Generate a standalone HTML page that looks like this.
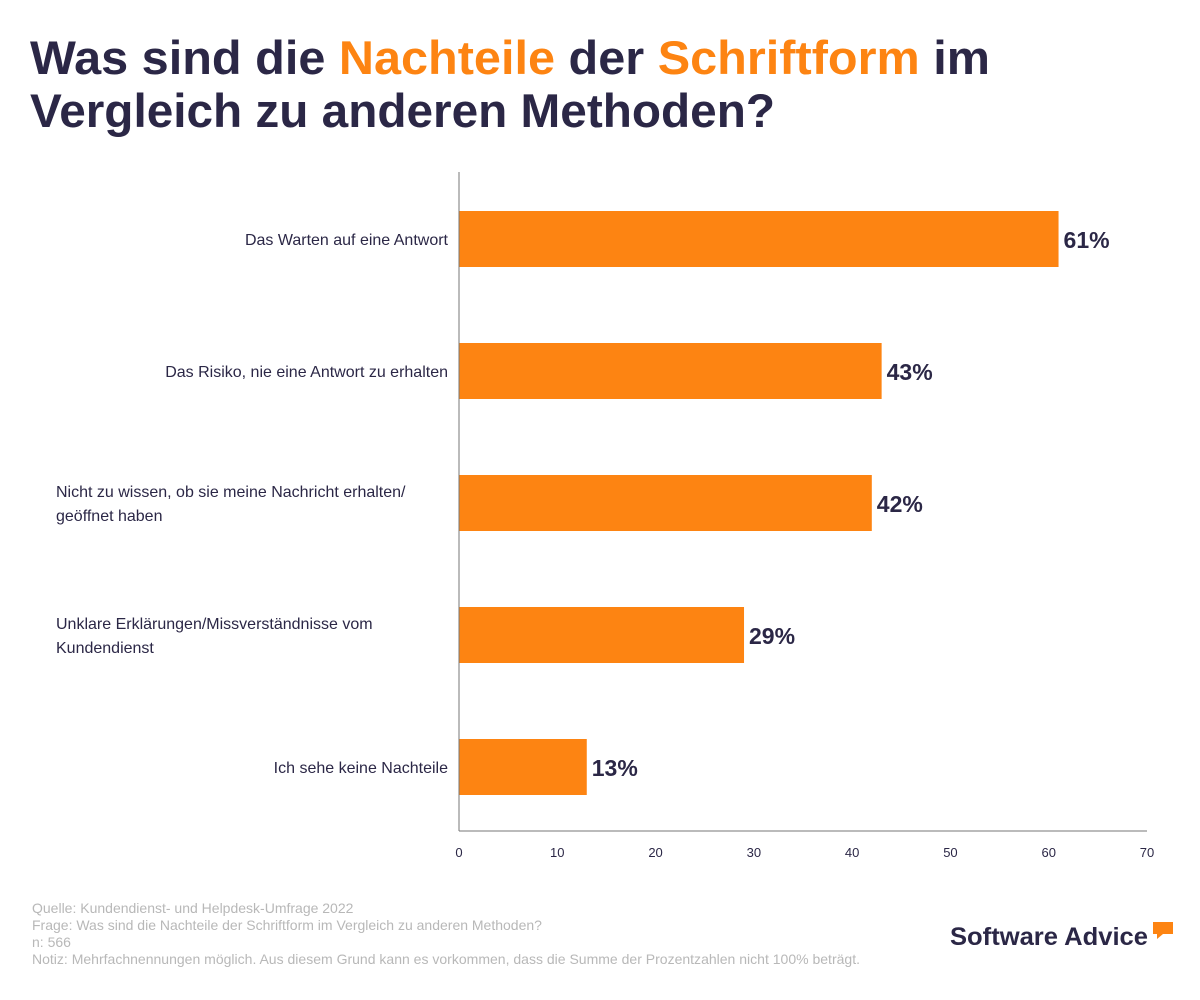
<!DOCTYPE html>
<html><head><meta charset="utf-8"><style>
body{margin:0;background:#fff;}
svg{display:block;font-family:"Liberation Sans",sans-serif;}
</style></head><body>
<svg width="1200" height="1000" viewBox="0 0 1200 1000">
<text x="30" y="74" font-size="47" font-weight="bold" fill="#2b2746" textLength="960" lengthAdjust="spacingAndGlyphs">Was sind die <tspan fill="#fd8412">Nachteile</tspan> der <tspan fill="#fd8412">Schriftform</tspan> im</text>
<text x="30" y="127" font-size="47" font-weight="bold" fill="#2b2746" textLength="745" lengthAdjust="spacingAndGlyphs">Vergleich zu anderen Methoden?</text>
<g id="plot"></g>
<g font-size="14" fill="#b8b8b8">
<text x="32" y="913">Quelle: Kundendienst- und Helpdesk-Umfrage 2022</text>
<text x="32" y="930">Frage: Was sind die Nachteile der Schriftform im Vergleich zu anderen Methoden?</text>
<text x="32" y="947">n: 566</text>
<text x="32" y="964" textLength="828" lengthAdjust="spacingAndGlyphs">Notiz: Mehrfachnennungen möglich. Aus diesem Grund kann es vorkommen, dass die Summe der Prozentzahlen nicht 100% beträgt.</text>
</g>
<g>
<text x="950" y="945" font-size="25" font-weight="bold" fill="#2b2746" textLength="198" lengthAdjust="spacingAndGlyphs">Software Advice</text>
<path d="M1153 922h20v12h-10l-6 5v-5h-4z" fill="#fd8412"/>
</g>
</svg>
<script>
const categories=[["Das Warten auf eine Antwort"],["Das Risiko, nie eine Antwort zu erhalten"],["Nicht zu wissen, ob sie meine Nachricht erhalten/","geöffnet haben"],["Unklare Erklärungen/Missverständnisse vom","Kundendienst"],["Ich sehe keine Nachteile"]];
const values=[61,43,42,29,13];
const ticks=[0,10,20,30,40,50,60,70];
const NS="http://www.w3.org/2000/svg";
const plotG=document.getElementById('plot');
const x0=459,x1=1147,xmax=70;
const xs=v=>x0+(x1-x0)*v/xmax;
const plotTop=172,plotBottom=831,step=132,firstCenter=239,barH=56;
const ys=i=>firstCenter+i*step;
function el(t,a){const e=document.createElementNS(NS,t);for(const k in a)e.setAttribute(k,a[k]);plotG.appendChild(e);return e;}
values.forEach((v,i)=>{
 const r=el('rect',{x:x0,y:ys(i)-barH/2,width:xs(v)-x0,height:barH,fill:'#fd8412'});
 
 
 const t=el('text',{x:xs(v)+5,y:ys(i)+9,'font-size':'23','font-weight':'bold',fill:'#2b2746'});
 t.textContent=v+'%';
 
 
 const lines=categories[i];
 const anchor=lines.length>1?'start':'end';
 const lx=lines.length>1?56:448;
 lines.forEach((ln,j)=>{
  const c=el('text',{x:lx,y:ys(i)+6+(j-(lines.length-1)/2)*24,'font-size':'16',fill:'#2b2746','text-anchor':anchor});
  c.textContent=ln;
  
  
 });
});
const ya=el('line',{x1:x0,y1:plotTop,x2:x0,y2:plotBottom,stroke:'#777','stroke-width':1});


const xa=el('line',{x1:x0,y1:plotBottom,x2:x1,y2:plotBottom,stroke:'#777','stroke-width':1});


ticks.forEach(tv=>{
 const tk=el('text',{x:xs(tv),y:857,'font-size':'13',fill:'#2b2746','text-anchor':'middle'});
 tk.textContent=tv;
 
 
});
</script>
</body></html>
